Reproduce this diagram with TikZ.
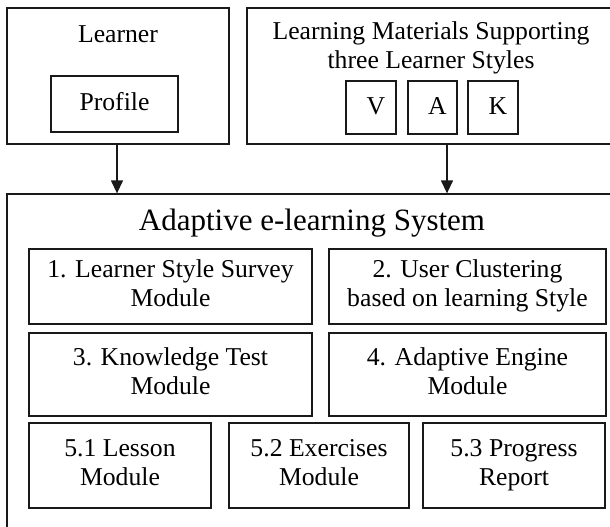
\documentclass[tikz,border=0pt]{standalone}
\usepackage{fontspec}
\setmainfont{Liberation Serif}
\usetikzlibrary{arrows.meta}
\newcommand{\toprl}{\rule{0pt}{19pt}}
\newcommand{\botrl}{\rule[-6pt]{0pt}{6pt}}
\begin{document}
\begin{tikzpicture}[x=1pt,y=-1pt,
  box/.style={draw=black!90,line width=1.3pt,inner sep=0pt,align=center,
    font=\fontsize{25.7}{29}\selectfont,
    execute at begin node=\toprl, execute at end node=\botrl},
  txt/.style={inner sep=0pt,align=center,font=\fontsize{25.7}{29}\selectfont},
  arr/.style={draw=black!90,line width=1.3pt,-{Triangle[length=13pt,width=12pt]}}]
\useasboundingbox (0,0) rectangle (610,527);
\clip (0,0) rectangle (610,527);
% top boxes
\node[box,minimum width=222pt,minimum height=136pt] (learner) at (118,76) {};
\node[txt] (learnertxt) at (118,34) {Learner};
\node[box,minimum width=127pt,minimum height=56pt] (profile) at (114.5,104) {Profile};
\node[box,minimum width=378pt,minimum height=136pt] (mat) at (436,76) {};
\node[txt] (mattxt) at (431,47.5) {Learning Materials Supporting\\three Learner Styles};
\node[box,minimum width=50pt,minimum height=53pt] (v) at (371,107.5) {\hspace*{10pt}V};
\node[box,minimum width=49pt,minimum height=53pt] (a) at (432.5,107.5) {\hspace*{10pt}A};
\node[box,minimum width=50pt,minimum height=53pt] (k) at (493,107.5) {\hspace*{10pt}K};
% system box
\node[box,minimum width=618pt,minimum height=346pt] (sys) at (316,367) {};
\node[txt,font=\fontsize{31}{36}\selectfont] (systxt) at (312,223) {Adaptive e-learning System};
\node[box,minimum width=283pt,minimum height=75pt] (m1) at (170.5,286.5) {1. Learner Style Survey\\Module};
\node[box,minimum width=277pt,minimum height=75pt] (m2) at (467.5,286.5) {2. User Clustering\\based on learning Style};
\node[box,minimum width=283pt,minimum height=83pt] (m3) at (170.5,374.5) {3. Knowledge Test\\Module};
\node[box,minimum width=277pt,minimum height=83pt] (m4) at (467.5,374.5) {4. Adaptive Engine\\Module};
\node[box,minimum width=182pt,minimum height=85pt] (m51) at (120,465.5) {5.1 Lesson\\Module};
\node[box,minimum width=180pt,minimum height=85pt] (m52) at (319,465.5) {5.2 Exercises\\Module};
\node[box,minimum width=182pt,minimum height=85pt] (m53) at (514,465.5) {5.3 Progress\\Report};
% arrows
\coordinate (a1x) at (117,0);
\coordinate (a2x) at (447,0);
\draw[arr] (learner.south -| a1x) -- (sys.north -| a1x);
\draw[arr] (mat.south -| a2x) -- (sys.north -| a2x);
\end{tikzpicture}
\end{document}
